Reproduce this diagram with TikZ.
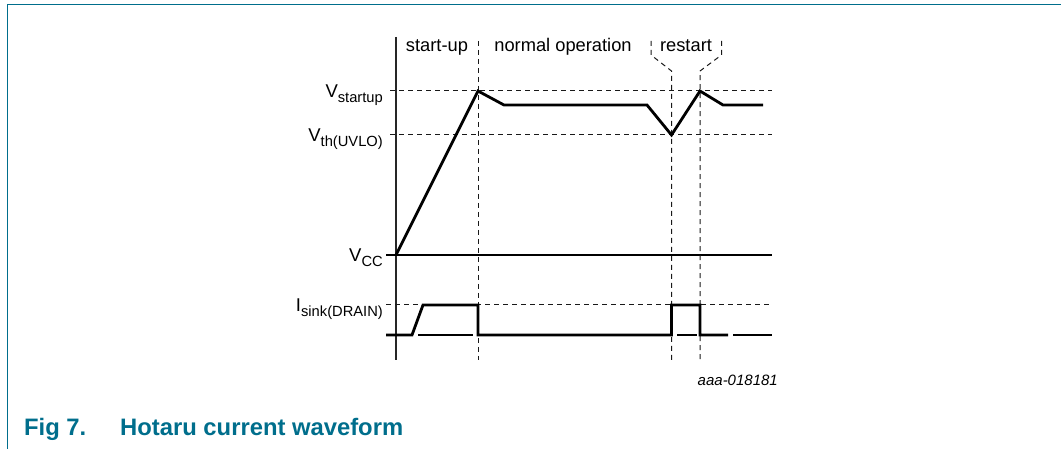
\documentclass[tikz,border=0pt]{standalone}
\usepackage{fontspec}
\setmainfont{Liberation Sans}
\definecolor{nxpteal}{RGB}{0,110,140}
\begin{document}
\begin{tikzpicture}[x=1pt,y=-1pt,
  thinline/.style={line width=1.1pt,black},
  axisline/.style={line width=1.6pt,black!85},
  dashline/.style={line width=1pt,black!90,dash pattern=on 5pt off 4pt},
  wave/.style={line width=2.8pt,black,line join=miter},
  lbl/.style={anchor=base east,inner sep=0pt,font=\fontsize{18.5}{20}\selectfont},
  hdr/.style={anchor=base,inner sep=0pt,font=\fontsize{18.3}{20}\selectfont},
  frameline/.style={line width=1.6pt,nxpteal}]
\useasboundingbox (0,0) rectangle (1061,449);
\newcommand{\subtxt}[1]{\raisebox{-5pt}{\fontsize{14.7}{16}\selectfont #1}}
% frame
\draw[frameline] (7.5,449) -- (7.5,4.5) -- (1061,4.5);
% reference coordinates
\coordinate (ax0) at (396,37);
\coordinate (ax1) at (396,360);
% axis
\draw[axisline] (ax0) -- (ax1);
% dashed horizontals
\draw[dashline] (390,91) -- (772,91);
\draw[dashline] (390,135) -- (772,135);
\draw[dashline] (386,305) -- (772,305);
% solid VCC line
\draw[thinline] (386,255) -- (772,255);
% dashed verticals
\draw[dashline] (478,41) -- (478,360);
\draw[dashline] (651,41) -- (651,55) -- (671.5,71) -- (671.5,360);
\draw[dashline] (721.5,41) -- (721.5,55) -- (700,71) -- (700,360);
% thin baseline segments
\draw[thinline] (418,335) -- (473,335);
\draw[thinline] (677,335) -- (697,335);
\draw[thinline] (733,335) -- (772,335);
% VCC waveform
\draw[wave] (396,255) -- (478,91) -- (504,105) -- (647,105) -- (671.5,135)
  -- (700,91) -- (723,105) -- (763,105);
% sink current waveform
\draw[wave] (386,335) -- (412,335) -- (423,305) -- (478,305) -- (478,335)
  -- (671.5,335) -- (671.5,305) -- (700,305) -- (700,335) -- (728,335);
% level labels
\node[lbl] (vstart) at (383,98) {V\subtxt{startup}};
\node[lbl] (vth) at (383,142) {V\subtxt{th(UVLO)}};
\node[lbl] (vcc) at (383,262) {V\subtxt{CC}};
\node[lbl] (isink) at (383,312) {I\subtxt{sink(DRAIN)}};
% phase headers
\node[hdr] (hstart) at (437,52) {start-up};
\node[hdr] (hnorm) at (563,52) {normal operation};
\node[hdr] (hrest) at (686,52) {restart};
% id
\node[anchor=base east,inner sep=0pt,font=\fontsize{15}{17}\selectfont\itshape] (code) at (778,385) {aaa-018181};
% caption
\node[anchor=base west,inner sep=0pt,text=nxpteal,font=\fontsize{23.8}{26}\selectfont\bfseries] (fig) at (24,435) {Fig 7.};
\node[anchor=base west,inner sep=0pt,text=nxpteal,font=\fontsize{23.8}{26}\selectfont\bfseries] (cap) at (120,435) {Hotaru current waveform};
\end{tikzpicture}
\end{document}
